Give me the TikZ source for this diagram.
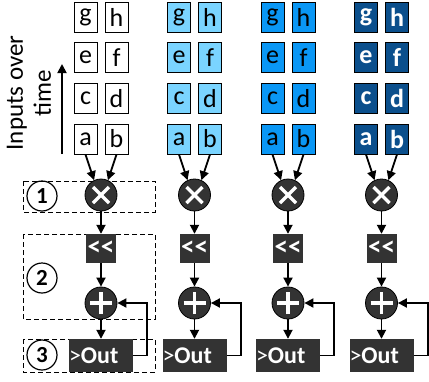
\documentclass[tikz,border=0pt]{standalone}
\usepackage{fontspec}
\setmainfont{Carlito}
\usepackage{tikz}
\usepackage{xcolor}
\usetikzlibrary{arrows.meta}

\definecolor{laneA}{HTML}{FFFFFF}
\definecolor{laneB}{HTML}{7AD4FF}
\definecolor{laneC}{HTML}{0A97F5}
\definecolor{laneD}{HTML}{0B4F8C}
\definecolor{unitgray}{HTML}{333333}

\begin{document}
\begin{tikzpicture}[x=1pt, y=-1pt,
    inbox/.style={draw, line width=1pt, minimum width=23pt, minimum height=30pt, inner sep=0pt},
    opcirc/.style={circle, fill=unitgray, draw=black, line width=0.8pt, minimum size=32pt, inner sep=0pt},
    mulop/.style={opcirc, path picture={
        \draw[white, line width=3.5pt] ([shift={(-8pt,-8pt)}]path picture bounding box.center) -- ([shift={(8pt,8pt)}]path picture bounding box.center);
        \draw[white, line width=3.5pt] ([shift={(-8pt,8pt)}]path picture bounding box.center) -- ([shift={(8pt,-8pt)}]path picture bounding box.center);}},
    addop/.style={opcirc, path picture={
        \draw[white, line width=3.5pt] ([shift={(-11pt,0pt)}]path picture bounding box.center) -- ([shift={(11pt,0pt)}]path picture bounding box.center);
        \draw[white, line width=3.5pt] ([shift={(0pt,-11pt)}]path picture bounding box.center) -- ([shift={(0pt,11pt)}]path picture bounding box.center);}},
    shiftbox/.style={fill=unitgray, minimum width=30pt, minimum height=29pt, inner sep=0pt, text=white, font=\bfseries\fontsize{27}{27}\selectfont},
    outbox/.style={fill=unitgray, minimum width=64pt, minimum height=33pt, text width=64pt, inner sep=0pt, align=left, text=white, font=\bfseries\fontsize{24}{24}\selectfont},
    stagebox/.style={draw, line width=1pt, dash pattern=on 5pt off 3pt},
    stagenum/.style={circle, draw, line width=1.2pt, minimum size=30pt, inner sep=0pt, font=\bfseries\fontsize{23}{23}\selectfont},
    flow/.style={-{Triangle[length=9pt,width=9pt]}, line width=1.8pt},
]
\useasboundingbox (0,0) rectangle (429,381);

% pipeline stages
\draw[stagebox] (23,181) rectangle (155,212);
\draw[stagebox] (23,234) rectangle (155,319);
\draw[stagebox] (23,339) rectangle (155,372);
\node[stagenum] (st1) at (42,196) {1};
\node[stagenum] (st2) at (42,278) {2};
\node[stagenum] (st3) at (42,355) {3};

% time axis
\node[rotate=90, align=center, font=\fontsize{25}{28}\selectfont] (timelbl) at (29,93) {Inputs over\\time};
\coordinate (t0) at (62,154);
\coordinate (t1) at (62,64);
\draw[flow] (t0) -- (t1);

\foreach \i/\fc/\tc/\fw in {1/laneA/black/\mdseries, 2/laneB/black/\mdseries, 3/laneC/black/\mdseries, 4/laneD/white/\bfseries} {
  \pgfmathsetmacro\cx{101+93.5*(\i-1)}
  % inputs
  \foreach \l/\r/\y in {a/b/139, c/d/98.3, e/f/57.6, g/h/17} {
    \node[inbox, fill=\fc, text=\tc, font=\fontsize{26}{26}\selectfont\fw] (\l\i) at (\cx-15.5,\y) {\l};
    \node[inbox, fill=\fc, text=\tc, font=\fontsize{26}{26}\selectfont\fw] (\r\i) at (\cx+15.5,\y) {\r};
  }
  % datapath
  \node[mulop] (mul\i) at (\cx,195) {};
  \node[shiftbox] (sh\i) at (\cx,248.5) {{<}{<}};
  \node[addop] (add\i) at (\cx,303) {};
  \node[outbox] (out\i) at (\cx,355.5) {{\mdseries>}Out};

  \draw[flow] (a\i.south) -- (mul\i.115);
  \draw[flow] (b\i.south) -- (mul\i.65);
  \draw[flow] (mul\i) -- (sh\i);
  \draw[flow] (sh\i) -- (add\i);
  \draw[flow] (add\i) -- (out\i);
  \draw[flow] (out\i.east) -- ++(14,0) |- (add\i.east);
}
\end{tikzpicture}
\end{document}
